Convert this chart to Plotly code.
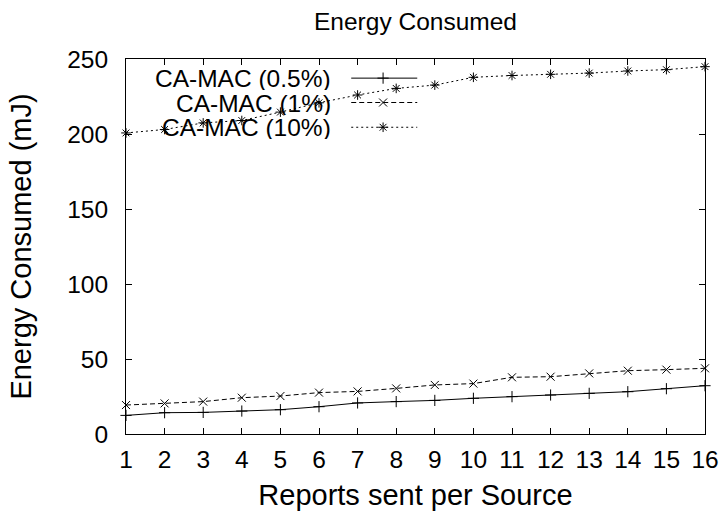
import plotly.graph_objects as go

# Reports sent per source (x axis)
reports = list(range(1, 17))

# Energy consumed (mJ) for each duty cycle
energy_05 = [12.4, 14.2, 14.4, 15.3, 16.2, 18.2, 20.7, 21.6, 22.4, 23.8, 24.9, 26.0, 27.1, 28.2, 30.2, 32.2]
energy_1 = [19.3, 20.4, 21.6, 24.2, 25.3, 27.6, 28.4, 30.4, 32.7, 33.6, 37.8, 38.2, 40.4, 42.2, 42.9, 43.8]
energy_10 = [200.7, 203.0, 207.4, 209.0, 214.6, 220.8, 226.0, 230.4, 232.6, 237.8, 239.0, 239.8, 240.6, 242.0, 242.9, 244.9]

y_ticks = [0, 50, 100, 150, 200, 250]

series_names = ["CA-MAC (0.5%)", "CA-MAC (1%)", "CA-MAC (10%)"]
series_data = [energy_05, energy_1, energy_10]
dashes = ["solid", "5px,3px", "2px,3px"]
symbols = ["cross-thin-open", "x-thin-open", "asterisk-open"]

FONT = "Liberation Sans, Arial, sans-serif"
FS = 24.5

fig = go.Figure()

for name, ys, dash, sym in zip(series_names, series_data, dashes, symbols):
    fig.add_trace(go.Scatter(
        x=reports, y=ys, mode="lines+markers", name=name,
        line=dict(color="black", width=1, dash=dash),
        marker=dict(symbol=sym, size=8, color="black", line=dict(color="black", width=1)),
        showlegend=False, cliponaxis=False,
    ))

# gnuplot-style key: right-aligned label followed by a line sample
key_rows = [0.949, 0.884, 0.818]
for name, dash, sym, ky in zip(series_names, dashes, symbols, key_rows):
    fig.add_trace(go.Scatter(
        x=[0.389, 0.444, 0.503], y=[ky, ky, ky], mode="lines+markers",
        xaxis="x2", yaxis="y2", showlegend=False, hoverinfo="skip",
        line=dict(color="black", width=1, dash=dash),
        marker=dict(symbol=sym, size=8, color="black", line=dict(color="black", width=1),
                    opacity=[0, 1, 0]),
    ))
    fig.add_annotation(
        x=0.3575, y=ky, xref="paper", yref="paper", text=name, showarrow=False,
        xanchor="right", yanchor="middle", height=24, valign="middle",
        font=dict(family=FONT, size=FS, color="black"),
    )

axis_common = dict(
    showline=True, linecolor="black", linewidth=1, mirror="ticks",
    ticks="inside", ticklen=6, tickcolor="black", tickwidth=1,
    showgrid=False, zeroline=False, automargin=False,
    tickfont=dict(family=FONT, size=FS, color="black"),
)

fig.update_layout(
    width=727, height=511,
    margin=dict(l=126, r=22, t=59, b=77),
    paper_bgcolor="white", plot_bgcolor="white",
    font=dict(family=FONT, size=FS, color="black"),
    title=dict(text="Energy Consumed", x=(126 + 705) / 2 / 727, xanchor="center",
               y=0.958, yanchor="middle",
               font=dict(family=FONT, size=FS, color="black")),
    xaxis=dict(range=[1, 16], tickmode="array", tickvals=reports, ticklabelstandoff=4,
               title=dict(text="Reports sent per Source", standoff=13), **axis_common),
    yaxis=dict(range=[0, 250], tickmode="array", tickvals=y_ticks, ticklabelstandoff=12,
               title=dict(text="Energy Consumed (mJ)", standoff=27), **axis_common),
    xaxis2=dict(overlaying="x", range=[0, 1], visible=False, fixedrange=True),
    yaxis2=dict(overlaying="y", range=[0, 1], visible=False, fixedrange=True),
)

fig.write_html("out.html")
